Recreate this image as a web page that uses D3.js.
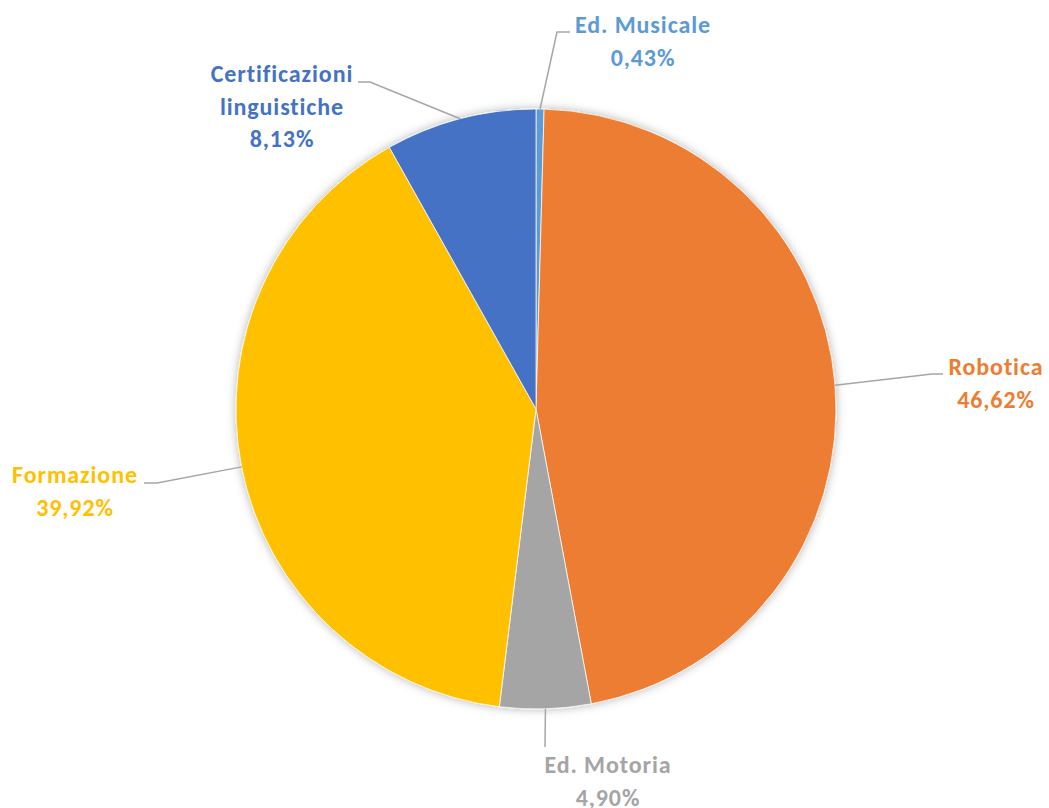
<!DOCTYPE html>
<html>
<head>
<meta charset="utf-8">
<script src="https://cdn.jsdelivr.net/npm/d3@7"></script>
<style>
  body { margin: 0; background: #fff; }
  #chart { width: 1049px; height: 808px; }
</style>
</head>
<body>
<div id="chart"></div>
<script>
const categories = ['Ed. Musicale', 'Robotica', 'Ed. Motoria', 'Formazione', 'Certificazioni linguistiche'];
const values = [0.43, 46.62, 4.9, 39.92, 8.13];
const colors = ['#5B9BD5', '#ED7D31', '#A5A5A5', '#FFC000', '#4472C4'];

// label layout: text lines, text center x, first baseline y, leader elbow and end
const labelLayout = [
  { lines: ['Ed. Musicale'], x: 643, y: 33, elbow: [557, 32], end: [570, 32] },
  { lines: ['Robotica'], x: 996, y: 375, elbow: [932, 374], end: [943, 374] },
  { lines: ['Ed. Motoria'], x: 608, y: 773, elbow: null, end: [545, 747] },
  { lines: ['Formazione'], x: 75, y: 483, elbow: [157, 483], end: [144, 483] },
  { lines: ['Certificazioni', 'linguistiche'], x: 282, y: 82, elbow: [370, 82], end: [358, 82] },
];

const width = 1049;
const height = 808;
const cx = 536;
const cy = 409;
const radius = 300;

const data = categories.map((c, i) => ({ name: c, value: values[i], color: colors[i], layout: labelLayout[i] }));

const svg = d3.select('#chart').append('svg').attr('width', width).attr('height', height);

const defs = svg.append('defs');
const filter = defs.append('filter').attr('id', 'shadow').attr('x', '-20%').attr('y', '-20%').attr('width', '140%').attr('height', '140%');
filter.append('feDropShadow').attr('dx', 0).attr('dy', 0).attr('stdDeviation', 5).attr('flood-color', '#000').attr('flood-opacity', 0.3);

const pie = d3.pie().value((d) => d.value).sort(null);
const arc = d3.arc().innerRadius(0).outerRadius(radius);
const edgeArc = d3.arc().innerRadius(radius).outerRadius(radius);
const arcs = pie(data);

const g = svg.append('g').attr('transform', `translate(${cx},${cy})`);

g.append('g')
  .attr('filter', 'url(#shadow)')
  .selectAll('path')
  .data(arcs)
  .enter()
  .append('path')
  .attr('d', arc)
  .attr('fill', (d) => d.data.color)
  .attr('stroke', '#fff')
  .attr('stroke-width', 0.75);

const fmt = (v) => v.toFixed(2).replace('.', ',') + '%';

// leader lines
svg
  .append('g')
  .selectAll('polyline')
  .data(arcs)
  .enter()
  .append('polyline')
  .attr('fill', 'none')
  .attr('stroke', '#A6A6A6')
  .attr('stroke-width', 1.5)
  .attr('points', (d) => {
    const [px, py] = edgeArc.centroid(d);
    const pts = [[cx + px, cy + py]];
    if (d.data.layout.elbow) pts.push(d.data.layout.elbow);
    pts.push(d.data.layout.end);
    return pts.map((p) => p.join(',')).join(' ');
  });

// labels
const labels = svg
  .append('g')
  .selectAll('text')
  .data(arcs)
  .enter()
  .append('text')
  .attr('text-anchor', 'middle')
  .attr('fill', (d) => d.data.color)
  .style('font-family', 'Carlito, Calibri, Lato, sans-serif')
  .style('font-weight', 'bold')
  .style('font-size', '24px')
  .style('letter-spacing', '0.9px');

labels.each(function (d) {
  const t = d3.select(this);
  const lines = d.data.layout.lines.concat([fmt(d.data.value)]);
  lines.forEach((line, i) => {
    t.append('tspan')
      .attr('x', d.data.layout.x)
      .attr('y', d.data.layout.y + i * 32.5)
      .text(line);
  });
});
</script>
</body>
</html>
